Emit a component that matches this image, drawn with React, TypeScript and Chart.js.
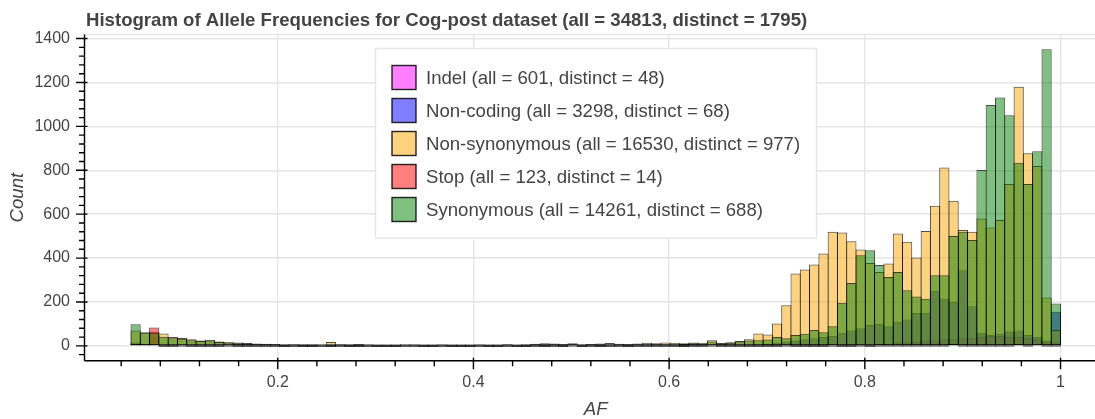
import React, { useEffect, useRef } from "react";
import { Chart, registerables } from "chart.js";
Chart.register(...registerables);

const TITLE = "Histogram of Allele Frequencies for Cog-post dataset (all = 34813, distinct = 1795)";
const X_LABEL = "AF";
const Y_LABEL = "Count";
const BIN_START = 0.05;
const BIN_WIDTH = 0.0095;
const X_MAJOR_TICKS = [0.2, 0.4, 0.6, 0.8, 1];
const X_MINOR_STEP = 0.04;
const Y_MAJOR_TICKS = [0, 200, 400, 600, 800, 1000, 1200, 1400];
const Y_MINOR_STEP = 40;
const X_RANGE = [0.0025, 1.0475];
const Y_RANGE = [-67.5, 1418.5];

const SERIES_NAMES = ["Indel", "Non-coding", "Non-synonymous", "Stop", "Synonymous"];
const SERIES_ALL = [601, 3298, 16530, 123, 14261];
const SERIES_DISTINCT = [48, 68, 977, 14, 688];
const SERIES_COLORS = [
  "rgba(255,0,255,0.5)",
  "rgba(0,0,255,0.5)",
  "rgba(255,165,0,0.5)",
  "rgba(255,0,0,0.5)",
  "rgba(0,128,0,0.5)",
];

const indel = [
  10, 8, 6, 0, 0, 2, 0, 0, 0, 0,
  1, 0, 0, 0, 0, 0, 0, 0, 0, 0,
  0, 0, 0, 0, 0, 0, 0, 0, 0, 0,
  1, 0, 0, 0, 0, 0, 0, 0, 0, 0,
  0, 0, 0, 0, 0, 0, 0, 2, 0, 0,
  0, 0, 0, 0, 0, 0, 0, 0, 0, 0,
  0, 0, 2, 0, 0, 0, 0, 0, 0, 0,
  3, 0, 0, 0, 0, 4, 0, 0, 5, 0,
  10, 10, 15, 15, 20, 25, 25, 30, 30, 35,
  35, 40, 45, 45, 40, 40, 35, 30, 25, 20,
];

const nonCoding = [
  15, 10, 8, 6, 5, 4, 3, 3, 2, 2,
  2, 1, 1, 1, 1, 1, 0, 1, 0, 0,
  1, 0, 1, 0, 0, 1, 0, 0, 0, 1,
  0, 0, 0, 1, 0, 0, 0, 1, 0, 0,
  1, 0, 0, 1, 0, 1, 0, 2, 0, 1,
  0, 1, 2, 0, 1, 2, 1, 2, 1, 0,
  2, 1, 3, 2, 2, 3, 5, 8, 10, 15,
  20, 25, 30, 35, 40, 45, 60, 70, 80, 95,
  100, 90, 110, 120, 150, 150, 250, 215, 200, 345,
  180, 60, 50, 55, 65, 70, 50, 40, 20, 155,
];

const nonSynonymous = [
  70, 60, 64, 56, 41, 36, 30, 24, 28, 20,
  17, 15, 13, 11, 10, 9, 8, 8, 7, 7,
  6, 18, 8, 7, 9, 6, 5, 6, 5, 4,
  5, 6, 5, 4, 5, 6, 5, 4, 5, 6,
  7, 6, 8, 10, 12, 11, 9, 12, 8, 9,
  11, 13, 10, 9, 11, 14, 12, 15, 14, 12,
  15, 14, 26, 13, 17, 22, 30, 56, 52, 102,
  185, 330, 348, 371, 421, 520, 517, 477, 439, 378,
  337, 375, 512, 474, 403, 523, 638, 813, 661, 528,
  520, 580, 539, 573, 737, 1180, 877, 819, 220, 72,
];

const stop = [
  10, 5, 84, 0, 0, 0, 0, 0, 0, 0,
  0, 0, 0, 0, 0, 0, 0, 0, 0, 0,
  0, 0, 0, 0, 0, 0, 0, 0, 0, 0,
  0, 0, 0, 0, 0, 0, 0, 0, 0, 0,
  0, 0, 0, 0, 0, 0, 0, 0, 0, 0,
  0, 0, 0, 0, 0, 0, 0, 0, 0, 0,
  0, 0, 0, 0, 0, 0, 0, 0, 0, 0,
  0, 0, 0, 0, 0, 0, 0, 0, 0, 0,
  0, 0, 0, 0, 0, 0, 0, 0, 10, 0,
  0, 0, 0, 0, 0, 8, 0, 6, 0, 0,
];

const synonymous = [
  98, 62, 60, 42, 35, 32, 26, 22, 25, 18,
  15, 12, 10, 8, 8, 6, 6, 5, 5, 4,
  4, 3, 4, 3, 2, 3, 2, 2, 3, 2,
  1, 2, 2, 1, 2, 3, 2, 2, 1, 2,
  3, 2, 3, 4, 5, 4, 3, 6, 4, 5,
  4, 6, 5, 4, 5, 7, 6, 8, 7, 9,
  12, 10, 20, 10, 14, 20, 24, 26, 29, 41,
  35, 50, 55, 72, 62, 90, 196, 287, 413, 436,
  368, 314, 337, 254, 225, 215, 322, 322, 500, 520,
  482, 801, 1097, 1132, 1051, 834, 737, 887, 1351, 193,
];

const FONT = '"Liberation Sans", Arial, Helvetica, sans-serif';
const CANVAS_W = 1107;
const CANVAS_H = 419;

export default function App() {
  const canvasRef = useRef<HTMLCanvasElement | null>(null);

  useEffect(() => {
    const canvas = canvasRef.current;
    if (!canvas) return;
    const seriesValues = [indel, nonCoding, nonSynonymous, stop, synonymous];
    const centers = synonymous.map((_, i) => BIN_START + BIN_WIDTH * (i + 0.5));
    const labels = SERIES_NAMES.map(
      (n, k) => `${n} (all = ${SERIES_ALL[k]}, distinct = ${SERIES_DISTINCT[k]})`
    );
    const datasets = seriesValues.map((vals, k) => ({
      label: labels[k],
      data: vals.map((v, i) => ({ x: centers[i], y: v })),
      backgroundColor: SERIES_COLORS[k],
      borderColor: "rgba(0,0,0,0.7)",
      borderWidth: 1,
      borderSkipped: false,
      barPercentage: 1.1,
      categoryPercentage: 1,
      grouped: false,
      minBarLength: 1.5,
      order: seriesValues.length - 1 - k,
    }));

    const decor = {
      id: "decor",
      beforeDraw(chart: any) {
        const { ctx, width, height } = chart;
        ctx.save();
        ctx.fillStyle = "#ffffff";
        ctx.fillRect(0, 0, width, height);
        ctx.restore();
      },
      afterDraw(chart: any) {
        const { ctx, chartArea: a, scales } = chart;
        const xs = scales.x;
        const ys = scales.y;
        ctx.save();
        ctx.strokeStyle = "#e5e5e5";
        ctx.lineWidth = 1.4;
        ctx.strokeRect(a.left, a.top, a.right - a.left, a.bottom - a.top);
        ctx.strokeStyle = "#000";
        ctx.lineWidth = 1.4;
        ctx.beginPath();
        ctx.moveTo(a.left, a.top);
        ctx.lineTo(a.left, a.bottom);
        ctx.moveTo(a.left, a.bottom);
        ctx.lineTo(a.right, a.bottom);
        ctx.stroke();
        ctx.beginPath();
        for (let k = Math.ceil(Y_RANGE[0] / Y_MINOR_STEP); k * Y_MINOR_STEP <= Y_RANGE[1]; k++) {
          const v = k * Y_MINOR_STEP;
          const y = ys.getPixelForValue(v);
          const major = Y_MAJOR_TICKS.includes(v);
          ctx.moveTo(a.left - (major ? 8.5 : 5.5), y);
          ctx.lineTo(a.left + (major ? 3 : 0), y);
        }
        for (let k = 1; k * X_MINOR_STEP <= X_RANGE[1]; k++) {
          const v = k * X_MINOR_STEP;
          const x = xs.getPixelForValue(v);
          const major = k % 5 === 0;
          ctx.moveTo(x, a.bottom - (major ? 3 : 0));
          ctx.lineTo(x, a.bottom + (major ? 8.5 : 5.5));
        }
        ctx.stroke();

        ctx.fillStyle = "#444444";
        ctx.font = `bold 18.6px ${FONT}`;
        ctx.textAlign = "left";
        ctx.textBaseline = "alphabetic";
        ctx.fillText(TITLE, 86, 26);

        ctx.font = `italic 18.6px ${FONT}`;
        ctx.textAlign = "center";
        ctx.textBaseline = "middle";
        ctx.fillText(X_LABEL, (a.left + a.right) / 2, 410);
        ctx.save();
        ctx.translate(18, (a.top + a.bottom) / 2);
        ctx.rotate(-Math.PI / 2);
        ctx.fillText(Y_LABEL, 0, 0);
        ctx.restore();

        const LX = 375.5, LY = 48.5, LW = 441, LH = 189.5;
        ctx.fillStyle = "rgba(255,255,255,0.95)";
        ctx.fillRect(LX, LY, LW, LH);
        ctx.strokeStyle = "#e5e5e5";
        ctx.lineWidth = 1.4;
        ctx.strokeRect(LX, LY, LW, LH);
        ctx.font = `18.6px ${FONT}`;
        ctx.textAlign = "left";
        ctx.textBaseline = "middle";
        labels.forEach((lab, k) => {
          const cy = 77.5 + 33 * k;
          ctx.fillStyle = SERIES_COLORS[k];
          ctx.fillRect(392, cy - 12, 24, 24);
          ctx.strokeStyle = "rgba(0,0,0,0.85)";
          ctx.lineWidth = 1.4;
          ctx.strokeRect(392, cy - 12, 24, 24);
          ctx.fillStyle = "#444444";
          ctx.fillText(lab, 426, cy + 1);
        });
        ctx.restore();
      },
    };

    const chart = new Chart(canvas, {
      type: "bar",
      data: { datasets: datasets as any },
      options: {
        animation: false,
        responsive: false,
        maintainAspectRatio: false,
        devicePixelRatio: 1,
        layout: { padding: { top: 34.5, left: 0, right: 0, bottom: 0 } },
        plugins: {
          legend: { display: false },
          title: { display: false },
          tooltip: { enabled: false },
        },
        scales: {
          x: {
            type: "linear",
            min: X_RANGE[0],
            max: X_RANGE[1],
            offset: false,
            afterBuildTicks: (s: any) => {
              s.ticks = X_MAJOR_TICKS.map((v) => ({ value: v }));
            },
            afterFit: (s: any) => {
              s.height = 58.3;
            },
            grid: { color: "#e5e5e5", lineWidth: 1.4, drawTicks: false, offset: false },
            border: { display: false },
            ticks: {
              padding: 12.7,
              color: "#444444",
              font: { size: 16, family: FONT },
              maxRotation: 0,
              autoSkip: false,
              callback: (v: any) => String(v),
            },
          },
          y: {
            type: "linear",
            min: Y_RANGE[0],
            max: Y_RANGE[1],
            afterBuildTicks: (s: any) => {
              s.ticks = Y_MAJOR_TICKS.map((v) => ({ value: v }));
            },
            afterFit: (s: any) => {
              s.width = 84.5;
            },
            grid: { color: "#e5e5e5", lineWidth: 1.4, drawTicks: false },
            border: { display: false },
            ticks: {
              padding: 14.5,
              color: "#444444",
              font: { size: 16, family: FONT },
              autoSkip: false,
              callback: (v: any) => String(v),
            },
          },
        },
      },
      plugins: [decor],
    } as any);
    return () => chart.destroy();
  }, []);

  return (
    <div
      style={{
        position: "fixed",
        left: 0,
        top: 0,
        width: 1095,
        height: 419,
        overflow: "hidden",
        background: "#fff",
      }}
    >
      <canvas
        ref={canvasRef}
        width={CANVAS_W}
        height={CANVAS_H}
        style={{ display: "block", width: CANVAS_W, height: CANVAS_H }}
      />
    </div>
  );
}
